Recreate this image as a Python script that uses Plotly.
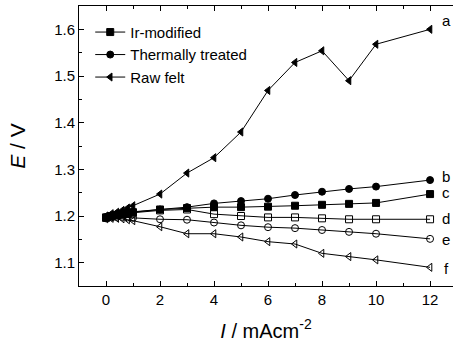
import plotly.graph_objects as go

x = [0, 0.2, 0.4, 0.6, 0.8, 1, 2, 3, 4, 5, 6, 7, 8, 9, 10, 12]

# a: Raw felt (filled left triangles)
raw_felt = [1.200, 1.205, 1.208, 1.212, 1.217, 1.222, 1.247, 1.292, 1.325, 1.380,
            1.469, 1.529, 1.554, 1.490, 1.568, 1.600]
# b: Thermally treated (filled circles)
thermal = [1.198, 1.201, 1.203, 1.205, 1.207, 1.209, 1.214, 1.219, 1.227, 1.232,
           1.237, 1.245, 1.252, 1.258, 1.263, 1.277]
# c: Ir-modified (filled squares)
ir_mod = [1.197, 1.200, 1.202, 1.204, 1.206, 1.208, 1.214, 1.217, 1.219, 1.219,
          1.220, 1.222, 1.224, 1.226, 1.228, 1.247]
# d: open squares
d_vals = [1.196, 1.199, 1.201, 1.203, 1.205, 1.207, 1.212, 1.214, 1.204, 1.200,
          1.197, 1.197, 1.195, 1.193, 1.193, 1.193]
# e: open circles
e_vals = [1.195, 1.197, 1.198, 1.198, 1.197, 1.196, 1.193, 1.192, 1.186, 1.180,
          1.176, 1.174, 1.170, 1.166, 1.162, 1.151]
# f: open triangles
f_vals = [1.194, 1.195, 1.195, 1.194, 1.192, 1.190, 1.177, 1.162, 1.162, 1.155,
          1.145, 1.140, 1.120, 1.113, 1.106, 1.090]

curve_labels = ["a", "b", "c", "d", "e", "f"]
label_values = [1.618, 1.285, 1.250, 1.195, 1.150, 1.088]

FONT = "Liberation Sans, Arial, sans-serif"

fig = go.Figure()

def add(y, sym, name, show):
    fig.add_trace(go.Scatter(
        x=x, y=y, mode="lines+markers", name=name, showlegend=show,
        line=dict(color="black", width=1),
        marker=dict(symbol=sym, size=7, color="black",
                    line=dict(color="black", width=1)),
    ))

add(ir_mod, "square", "Ir-modified", True)
add(thermal, "circle", "Thermally treated", True)
add(raw_felt, "triangle-left", "Raw felt", True)
add(d_vals, "square-open", "d", False)
add(e_vals, "circle-open", "e", False)
add(f_vals, "triangle-left-open", "f", False)

for lab, val in zip(curve_labels, label_values):
    fig.add_annotation(x=12.6, y=val, text=lab, showarrow=False,
                       xanchor="center", yanchor="middle",
                       font=dict(family=FONT, size=15, color="black"))

fig.update_layout(
    width=453, height=348,
    margin=dict(l=79, r=0, t=6, b=62),
    paper_bgcolor="white", plot_bgcolor="white",
    font=dict(family=FONT, size=15, color="black"),
    showlegend=True,
    legend=dict(x=0.03, y=0.965, xanchor="left", yanchor="top",
                bgcolor="rgba(0,0,0,0)", font=dict(size=15),
                itemwidth=30, tracegroupgap=0),
    xaxis=dict(
        range=[-1, 12.85], showgrid=False, zeroline=False,
        showline=True, linecolor="black", linewidth=1, mirror="ticks",
        ticks="inside", ticklen=5, tickcolor="black", tickwidth=1,
        tick0=0, dtick=2,
        minor=dict(ticks="inside", ticklen=3, dtick=1, tick0=0, tickcolor="black"),
        title=dict(text="<i>I</i> / mAcm<sup>-2</sup>", font=dict(size=20), standoff=16),
    ),
    yaxis=dict(
        range=[1.05, 1.65], showgrid=False, zeroline=False,
        showline=True, linecolor="black", linewidth=1, mirror=False,
        ticks="inside", ticklen=5, tickcolor="black", tickwidth=1,
        tick0=1.1, dtick=0.1, tickformat=".1f",
        minor=dict(ticks="inside", ticklen=3, dtick=0.05, tick0=1.05, tickcolor="black"),
        title=dict(text="<i>E</i> / V", font=dict(size=21), standoff=22),
    ),
)

fig.write_html("out.html")
